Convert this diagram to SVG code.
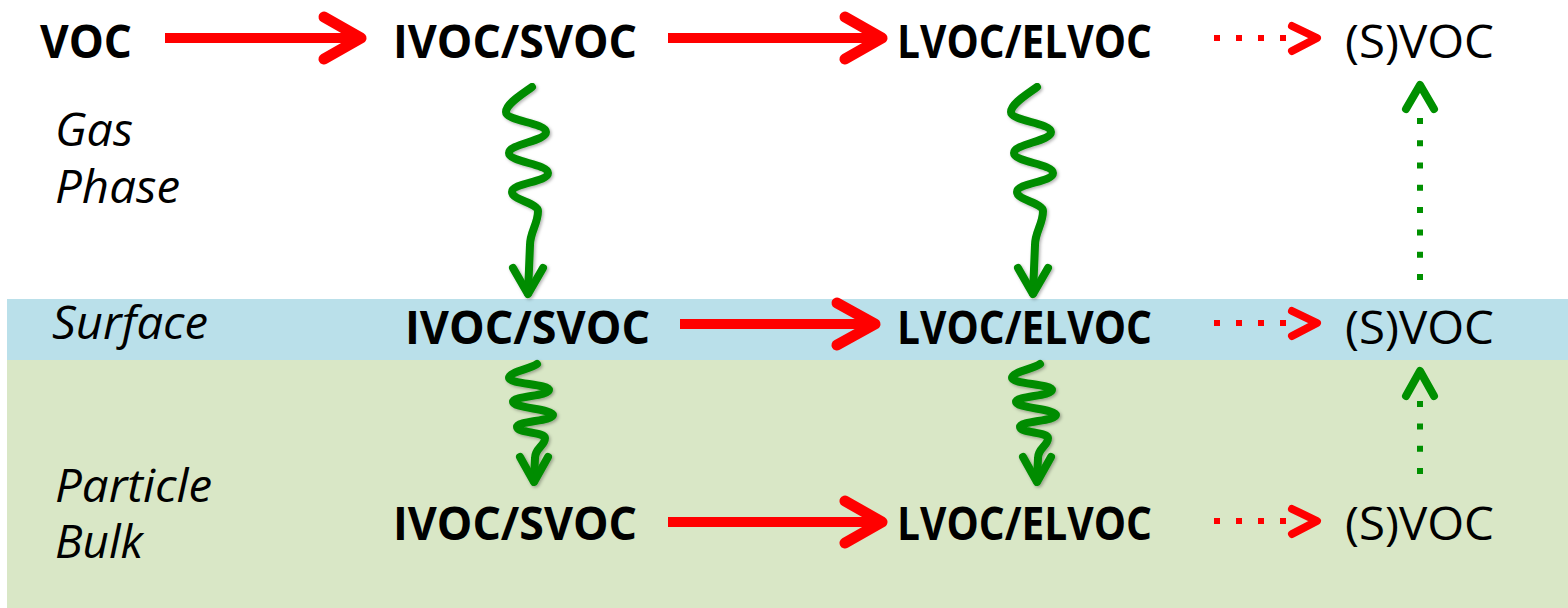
<svg xmlns="http://www.w3.org/2000/svg" width="1568" height="608" viewBox="0 0 1568 608">
  <style>
    .lbl { font-family: "Open Sans", "Liberation Sans", sans-serif; font-size: 46px; fill: #000; }
    .b { font-weight: bold; }
    .it { font-style: italic; font-size: 45px; }
    .red { fill: none; stroke: #FF0000; stroke-linecap: round; stroke-linejoin: round; }
    .redline { stroke-width: 10; stroke-linecap: butt; }
    .redhead { stroke-width: 11; }
    .reddots { stroke-width: 6; stroke-dasharray: 6 16; stroke-linecap: butt; }
    .redhead2 { stroke-width: 8; }
    .grn { fill: none; stroke: #008C00; stroke-width: 8; stroke-linecap: round; stroke-linejoin: round; }
    .grndots { fill: none; stroke: #009000; stroke-width: 6; stroke-dasharray: 6 16.3; }
    .grnhead2 { fill: none; stroke: #009000; stroke-width: 8; stroke-linecap: round; stroke-linejoin: round; }
  </style>
  <defs>
    <filter id="soft" x="-30%" y="-10%" width="160%" height="120%">
      <feDropShadow dx="1.5" dy="1.5" stdDeviation="1.5" flood-color="#000" flood-opacity="0.3"/>
    </filter>
    <!-- wavy diffusion arrow, upper (gas to surface) -->
    <g id="wave-up">
      <path class="grn" d="M 532 87 C 521 95, 506 104, 506 112 C 506 121, 546 123, 546 132 C 546 141, 509 144, 509 153 C 509 162, 548 164, 548 173 C 548 182, 512 183, 512 192 C 512 200, 538 203, 538 211 C 538 224, 530 232, 530 245 L 528 293"/>
      <path class="grn" d="M 513 268 L 528 294 L 543 268"/>
    </g>
    <!-- wavy diffusion arrow, lower (surface to bulk) -->
    <g id="wave-low">
      <path class="grn" d="M 537 364 C 530 369, 509 372, 509 378 C 509 384, 549 384, 549 390 C 549 396, 513 396, 513 402 C 513 408, 553 409, 553 415 C 553 421, 517 421, 517 427 C 517 433, 545 432, 545 438 C 545 446, 535 448, 535 458 L 534 481"/>
      <path class="grn" d="M 520 457 L 534 482 L 548 457"/>
    </g>
  </defs>

  <!-- phase bands -->
  <g id="bands">
    <rect id="surface-band" x="7" y="299" width="1561" height="61" fill="#BAE0EA"/>
    <rect id="bulk-band" x="7" y="360" width="1561" height="248" fill="#D9E7C6"/>
  </g>

  <!-- phase labels -->
  <g id="phase-labels">
    <text class="lbl it" x="55" y="146" textLength="78" lengthAdjust="spacingAndGlyphs">Gas</text>
    <text class="lbl it" x="55" y="203" textLength="125" lengthAdjust="spacingAndGlyphs">Phase</text>
    <text class="lbl it" x="52" y="339" textLength="156" lengthAdjust="spacingAndGlyphs">Surface</text>
    <text class="lbl it" x="55" y="502" textLength="157" lengthAdjust="spacingAndGlyphs">Particle</text>
    <text class="lbl it" x="55" y="558" textLength="88" lengthAdjust="spacingAndGlyphs">Bulk</text>
  </g>

  <!-- gas phase species -->
  <g id="gas-voc"><text class="lbl b" x="40" y="58" textLength="92" lengthAdjust="spacingAndGlyphs">VOC</text></g>
  <g id="gas-ivoc"><text class="lbl b" x="393" y="58" textLength="244" lengthAdjust="spacingAndGlyphs">IVOC/SVOC</text></g>
  <g id="gas-lvoc"><text class="lbl b" x="897" y="58" textLength="255" lengthAdjust="spacingAndGlyphs">LVOC/ELVOC</text></g>
  <g id="gas-svoc"><text class="lbl" x="1345" y="58" textLength="149" lengthAdjust="spacingAndGlyphs">(S)VOC</text></g>

  <!-- surface species -->
  <g id="surf-ivoc"><text class="lbl b" x="405" y="344" textLength="245" lengthAdjust="spacingAndGlyphs">IVOC/SVOC</text></g>
  <g id="surf-lvoc"><text class="lbl b" x="897" y="344" textLength="255" lengthAdjust="spacingAndGlyphs">LVOC/ELVOC</text></g>
  <g id="surf-svoc"><text class="lbl" x="1345" y="344" textLength="149" lengthAdjust="spacingAndGlyphs">(S)VOC</text></g>

  <!-- bulk species -->
  <g id="bulk-ivoc"><text class="lbl b" x="393" y="540" textLength="244" lengthAdjust="spacingAndGlyphs">IVOC/SVOC</text></g>
  <g id="bulk-lvoc"><text class="lbl b" x="897" y="540" textLength="255" lengthAdjust="spacingAndGlyphs">LVOC/ELVOC</text></g>
  <g id="bulk-svoc"><text class="lbl" x="1345" y="540" textLength="149" lengthAdjust="spacingAndGlyphs">(S)VOC</text></g>

  <!-- connectors -->
  <g id="connectors">
    <!-- oxidation steps, gas phase -->
    <g class="red">
      <line class="redline" x1="165" y1="38" x2="352" y2="38"/>
      <path class="redhead" d="M 324 17 L 361 38 L 324 59"/>
      <line class="redline" x1="668" y1="38" x2="873" y2="38"/>
      <path class="redhead" d="M 845 17 L 882 38 L 845 59"/>
      <line class="reddots" x1="1214" y1="38" x2="1286" y2="38"/>
      <path class="redhead2" d="M 1292 26 L 1317 38 L 1292 51"/>
    </g>
    <!-- oxidation steps, surface -->
    <g class="red">
      <line class="redline" x1="680" y1="324" x2="866" y2="324"/>
      <path class="redhead" d="M 837 303 L 875 324 L 837 345"/>
      <line class="reddots" x1="1214" y1="323" x2="1286" y2="323"/>
      <path class="redhead2" d="M 1292 311 L 1317 323 L 1292 336"/>
    </g>
    <!-- oxidation steps, bulk -->
    <g class="red">
      <line class="redline" x1="668" y1="522" x2="873" y2="522"/>
      <path class="redhead" d="M 845 501 L 882 522 L 845 543"/>
      <line class="reddots" x1="1214" y1="521" x2="1286" y2="521"/>
      <path class="redhead2" d="M 1292 509 L 1317 521 L 1292 534"/>
    </g>

    <!-- diffusion / partitioning -->
    <g filter="url(#soft)">
      <use href="#wave-up"/>
      <use href="#wave-up" transform="translate(505 0)"/>
      <use href="#wave-low"/>
      <use href="#wave-low" transform="translate(503 0)"/>
    </g>

    <!-- volatilisation back to gas / surface -->
    <line class="grndots" x1="1420" y1="280" x2="1420" y2="118"/>
    <path class="grnhead2" d="M 1406 109 L 1420 85 L 1434 109"/>
    <line class="grndots" x1="1420" y1="474" x2="1420" y2="401"/>
    <path class="grnhead2" d="M 1406 396 L 1420 371 L 1434 396"/>
  </g>
</svg>
